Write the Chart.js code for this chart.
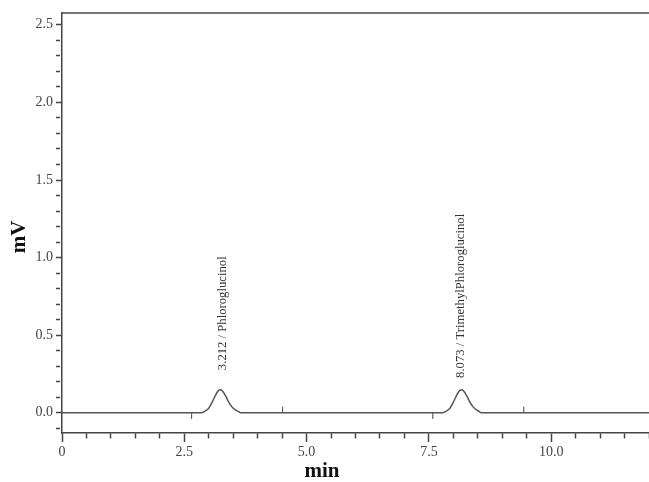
<!DOCTYPE html>
<html>
<head>
<meta charset="utf-8">
<script src="https://cdn.jsdelivr.net/npm/chart.js@4"></script>
<style>
  html, body { margin: 0; padding: 0; background: #fff; }
  #wrap { width: 649px; height: 482px; }
</style>
</head>
<body>
<div id="wrap"><canvas id="chrom" width="649" height="482"></canvas></div>
<script>
// --- data ---
const times = [0, 2.84, 2.92, 3.00, 3.06, 3.12, 3.18, 3.23, 3.28, 3.34, 3.40, 3.47, 3.55, 3.62, 3.66,
               7.77, 7.85, 7.93, 7.99, 8.05, 8.11, 8.16, 8.21, 8.27, 8.33, 8.40, 8.48, 8.54, 8.57, 12];
const signal = [0, 0, 0.010, 0.030, 0.062, 0.102, 0.136, 0.148, 0.141, 0.112, 0.074, 0.040, 0.017, 0.006, 0,
                0, 0.010, 0.030, 0.062, 0.102, 0.136, 0.148, 0.141, 0.112, 0.074, 0.040, 0.017, 0.006, 0, 0];

// integration event marks
const eventTimesLow = [2.65, 7.58];
const eventTimesHigh = [4.51, 9.44];

// peak annotations
const peakTimes = [3.212, 8.073];
const peakNames = ['3.212 / Phloroglucinol', '8.073 / TrimethylPhloroglucinol'];
const peakLabelBase = [0.275, 0.225];

const axisColor = '#444';
const tickFont = { family: 'Liberation Serif', size: 14 };

const isMultiple = (v, step) => Math.abs(v / step - Math.round(v / step)) < 1e-6;

// --- text layer: axis titles + peak names ---
const textPlugin = {
    id: 'texts',
    afterDatasetsDraw(chart) {
        const ctx = chart.ctx;
        const xs = chart.scales.x, ys = chart.scales.y;
        ctx.save();
        ctx.fillStyle = '#333';
        ctx.font = '12.7px "Liberation Serif"';
        ctx.textAlign = 'left';
        ctx.textBaseline = 'middle';
        peakTimes.forEach((t, i) => {
            ctx.save();
            ctx.translate(xs.getPixelForValue(t) + 4, ys.getPixelForValue(peakLabelBase[i]));
            ctx.rotate(-Math.PI / 2);
            ctx.fillText(peakNames[i], 0, 0);
            ctx.restore();
        });

        ctx.fillStyle = '#111';
        ctx.font = 'bold 21px "Liberation Serif"';
        ctx.textAlign = 'center';
        ctx.fillText('min', 322, 472);
        ctx.save();
        ctx.translate(20, 237);
        ctx.rotate(-Math.PI / 2);
        ctx.fillText('mV', 0, 0);
        ctx.restore();
        ctx.restore();
    }
};

const noSidePadding = s => { s.paddingLeft = 0; s.paddingRight = 0; };

const ctx = document.getElementById('chrom').getContext('2d');
new Chart(ctx, {
    type: 'line',
    data: {
        datasets: [
            {
                data: times.map((t, i) => ({ x: t, y: signal[i] })),
                borderColor: '#555',
                borderWidth: 1.5,
                pointRadius: 0,
                cubicInterpolationMode: 'monotone',
                fill: false
            },
            {
                data: eventTimesLow.map(t => ({ x: t, y: -0.02 })),
                showLine: false,
                pointStyle: 'line',
                rotation: 90,
                pointRadius: 3,
                borderColor: '#444',
                borderWidth: 1
            },
            {
                data: eventTimesHigh.map(t => ({ x: t, y: 0.02 })),
                showLine: false,
                pointStyle: 'line',
                rotation: 90,
                pointRadius: 3,
                borderColor: '#444',
                borderWidth: 1
            }
        ]
    },
    options: {
        responsive: false,
        animation: false,
        layout: { padding: 0, autoPadding: false },
        plugins: { legend: { display: false }, tooltip: { enabled: false } },
        scales: {
            x: {
                type: 'linear',
                position: 'bottom',
                min: 0,
                max: 12,
                afterFit: s => { s.height = 49; noSidePadding(s); },
                border: { color: axisColor, width: 1.5 },
                grid: {
                    drawOnChartArea: false,
                    tickLength: 9,
                    tickColor: axisColor,
                    tickWidth: 1.5,
                    tickBorderDash: c => isMultiple(c.tick.value, 2.5) ? [] : [5, 100]
                },
                ticks: {
                    stepSize: 0.5,
                    includeBounds: false,
                    maxRotation: 0,
                    autoSkip: false,
                    padding: 2,
                    color: axisColor,
                    font: tickFont,
                    callback: v => isMultiple(v, 2.5) ? (v === 0 ? '0' : v.toFixed(1)) : ''
                }
            },
            top: {
                type: 'linear',
                position: 'top',
                afterFit: s => { s.height = 13; noSidePadding(s); },
                border: { color: '#777', width: 2 },
                grid: { display: false, drawTicks: false },
                ticks: { display: false }
            },
            y: {
                min: -0.13,
                max: 2.576,
                afterFit: s => { s.width = 62; },
                border: { color: axisColor, width: 1.5 },
                grid: {
                    drawOnChartArea: false,
                    tickLength: 6,
                    tickColor: axisColor,
                    tickWidth: 1.5,
                    tickBorderDash: c => isMultiple(c.tick.value, 0.5) ? [] : [4, 100]
                },
                ticks: {
                    stepSize: 0.1,
                    includeBounds: false,
                    autoSkip: false,
                    padding: 3,
                    color: axisColor,
                    font: tickFont,
                    callback: v => (v >= -1e-6 && isMultiple(v, 0.5)) ? v.toFixed(1) : ''
                }
            }
        }
    },
    plugins: [textPlugin]
});
</script>
</body>
</html>
